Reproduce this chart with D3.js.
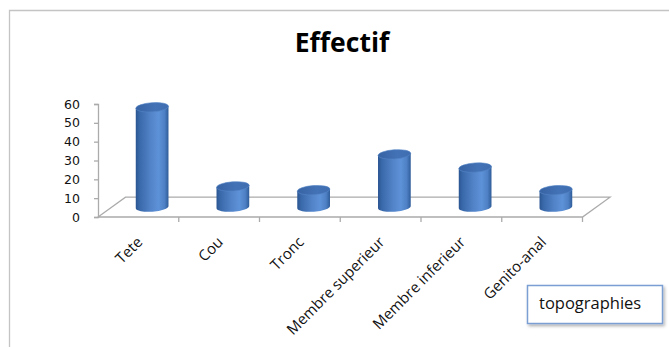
<!DOCTYPE html>
<html>
<head>
<meta charset="utf-8">
<script src="https://cdn.jsdelivr.net/npm/d3@7"></script>
<style>
  html, body { margin: 0; padding: 0; background: #fff; }
  svg { display: block; }
</style>
</head>
<body>
<svg id="chart" width="669" height="347"></svg>
<script>
// Data
const categories = ["Tete", "Cou", "Tronc", "Membre superieur", "Membre inferieur", "Genito-anal"];
const effectif = [53, 11, 9, 28, 21, 9];
const yTicks = [0, 10, 20, 30, 40, 50, 60];
const chartTitle = "Effectif";
const noteText = "topographies";

const svg = d3.select("#chart");
const W = 669, H = 347;

// Plot geometry (front plane of the floor + depth offset)
const x0 = 98, x1 = 582.5;
const yBase = 217, yTop = 104;
const depthX = 27.5, depthY = -19.8;

const x = d3.scaleBand().domain(categories).range([x0, x1]).padding(0);
const y = d3.scaleLinear().domain([0, 60]).range([yBase, yTop]);

// Outer frame
svg.append("path")
  .attr("d", `M9.5,${H} L9.5,10.5 L${W},10.5`)
  .attr("fill", "none").attr("stroke", "#c4c4c4").attr("stroke-width", 1.3);

// Title
svg.append("text")
  .attr("x", 342).attr("y", 52)
  .attr("text-anchor", "middle")
  .attr("font-family", "'Open Sans', sans-serif")
  .attr("font-weight", 700)
  .attr("font-size", 26.5)
  .attr("fill", "#000")
  .text(chartTitle);

// Floor
const floorColor = "#ababab";
const floor = svg.append("g").attr("fill", "none").attr("stroke", floorColor).attr("stroke-width", 1.3);
floor.append("path")
  .attr("d", `M${x0},${yBase} L${x1},${yBase} L${x1 + depthX},${yBase + depthY} L${x0 + depthX},${yBase + depthY} Z`)
  .attr("fill", "#fff");

// Value axis
const yAxis = d3.axisLeft(y).tickValues(yTicks).tickSize(4).tickPadding(14);
const gy = svg.append("g").attr("transform", `translate(${x0},0)`).call(yAxis);
gy.select(".domain").attr("stroke", floorColor).attr("stroke-width", 1.3);
gy.selectAll(".tick line").attr("stroke", floorColor).attr("stroke-width", 1.3);
gy.selectAll(".tick text")
  .attr("font-family", "'DejaVu Sans', sans-serif")
  .attr("font-size", 12.5)
  .attr("fill", "#111");

// Category ticks along the front edge
const bounds = categories.map(c => x(c)).concat([x1]);
svg.append("g").selectAll("line").data(bounds.slice(1)).join("line")
  .attr("x1", d => d).attr("x2", d => d)
  .attr("y1", yBase).attr("y2", yBase + 5)
  .attr("stroke", floorColor).attr("stroke-width", 1.3);

// Category labels, rotated
svg.append("g").selectAll("text").data(categories).join("text")
  .attr("transform", d => `translate(${x(d) + x.bandwidth() / 2 + 5},${yBase + 26}) rotate(-45)`)
  .attr("text-anchor", "end")
  .attr("font-family", "'Open Sans', sans-serif")
  .attr("font-size", 15)
  .attr("fill", "#111")
  .text(d => d);

// Cylinders
const defs = svg.append("defs");
const bodyGrad = defs.append("linearGradient").attr("id", "cylBody")
  .attr("x1", "0%").attr("x2", "100%").attr("y1", "0%").attr("y2", "0%");
[["0%", "#2a5592"], ["12%", "#3a69aa"], ["45%", "#5283c8"], ["70%", "#5e92d8"], ["88%", "#4d80c4"], ["100%", "#2f5c99"]]
  .forEach(([o, c]) => bodyGrad.append("stop").attr("offset", o).attr("stop-color", c));
const topGrad = defs.append("linearGradient").attr("id", "cylTop")
  .attr("x1", "0%").attr("x2", "100%").attr("y1", "0%").attr("y2", "0%");
[["0%", "#3763a3"], ["60%", "#4372b6"], ["100%", "#3f6db0"]]
  .forEach(([o, c]) => topGrad.append("stop").attr("offset", o).attr("stop-color", c));

const rx = 16.4, ry = 4.6, tilt = -4;
const phi = tilt * Math.PI / 180;
const ex = rx * Math.cos(phi), ey = rx * Math.sin(phi);

const bars = categories.map((c, i) => ({
  c, v: effectif[i],
  cx: x(c) + x.bandwidth() / 2 + depthX / 2,
  yb: y(0) + depthY / 2,
  yt: y(effectif[i]) + depthY / 2
}));

const g = svg.append("g");
g.selectAll("path.body").data(bars).join("path")
  .attr("class", "body")
  .attr("d", b => `M${b.cx - ex},${b.yt - ey} L${b.cx - ex},${b.yb - ey} ` +
    `A${rx},${ry} ${tilt} 0 0 ${b.cx + ex},${b.yb + ey} L${b.cx + ex},${b.yt + ey} Z`)
  .attr("fill", "url(#cylBody)");
g.selectAll("ellipse.top").data(bars).join("ellipse")
  .attr("class", "top")
  .attr("cx", 0).attr("cy", 0).attr("rx", rx).attr("ry", ry)
  .attr("transform", b => `translate(${b.cx},${b.yt}) rotate(${tilt})`)
  .attr("fill", "url(#cylTop)")
  .attr("stroke", "#5585c6").attr("stroke-width", 0.6);

// Note box with shadow
const filt = defs.append("filter").attr("id", "boxShadow")
  .attr("x", "-10%").attr("y", "-20%").attr("width", "130%").attr("height", "160%");
filt.append("feDropShadow").attr("dx", 1.5).attr("dy", 2).attr("stdDeviation", 1.8)
  .attr("flood-color", "#000").attr("flood-opacity", 0.3);
svg.append("rect")
  .attr("x", 527.5).attr("y", 285.5).attr("width", 135).attr("height", 38)
  .attr("fill", "#fff").attr("stroke", "#7c9fd3").attr("stroke-width", 1.5)
  .attr("filter", "url(#boxShadow)");
svg.append("text")
  .attr("x", 539).attr("y", 308.5)
  .attr("font-family", "'Open Sans', sans-serif")
  .attr("font-size", 16.5)
  .attr("fill", "#111")
  .text(noteText);
</script>
</body>
</html>
